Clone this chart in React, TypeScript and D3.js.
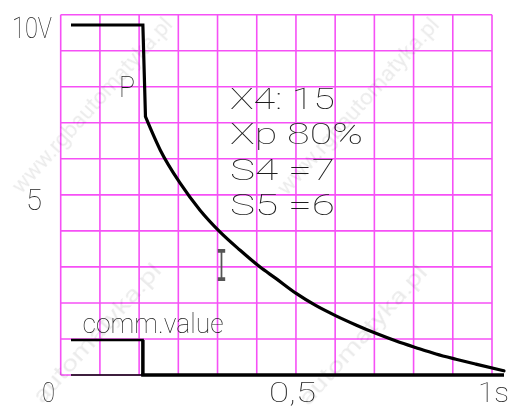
import React from "react";
import * as d3 from "d3";

// ---- data ----
const gridCols = 11;
const gridRows = 10;

// P + I response of the controller output (seconds, volts)
const respTime = [0, 0.166, 0.172, 0.206, 0.252, 0.298, 0.344, 0.39, 0.436, 0.473, 0.52, 0.566, 0.612, 0.658, 0.704, 0.751, 0.797, 0.843, 0.889, 0.935, 1.0];
const respVolt = [10, 10, 7.38, 6.43, 5.48, 4.71, 4.09, 3.57, 3.09, 2.76, 2.33, 1.98, 1.69, 1.43, 1.19, 0.97, 0.78, 0.6, 0.45, 0.31, 0.12];

// command value step
const cmdTime = [0, 0.166, 0.166, 1.0];
const cmdVolt = [1, 1, 0, 0];

const yTickLabels = [
  { v: 10, label: "10V" },
  { v: 5, label: "5" },
  { v: 0, label: "0" },
];
const xTickLabels = [
  { t: 0.5, label: "0,5" },
  { t: 1.0, label: "1s" },
];
const paramLines = ["X4: 15", "Xp 80%", "S4 =7", "S5 =6"];
const watermarkFull = "www.rgbautomatyka.pl";
const watermarkPart = "automatyka.pl";

const W = 511;
const H = 410;

export default function App() {
  const x = d3.scaleLinear().domain([0, 1]).range([71, 504]);
  const y = d3.scaleLinear().domain([0, 10]).range([375, 25]);
  const gx = d3.scaleLinear().domain([0, gridCols]).range([60.7, 492]);
  const gy = d3.scaleLinear().domain([0, gridRows]).range([375, 14.7]);

  const pts = respTime.map((t, i) => [t, respVolt[i]] as [number, number]);
  const stepLine = d3
    .line<[number, number]>()
    .x((d) => x(d[0]))
    .y((d) => y(d[1]));
  const curveLine = d3
    .line<[number, number]>()
    .x((d) => x(d[0]))
    .y((d) => y(d[1]))
    .curve(d3.curveMonotoneX);

  const cmd = cmdTime.map((t, i) => [t, cmdVolt[i]] as [number, number]);

  const font = "Roboto, 'DejaVu Sans', sans-serif";
  const txt = "#1e1e1e";

  const tick = (label: string, xPos: number, base: number, len: number, size = 29) => (
    <text
      key={label}
      x={xPos}
      y={base}
      fontFamily={font}
      fontWeight={100}
      fontSize={size}
      fill={txt}
      textLength={len}
      lengthAdjust="spacingAndGlyphs"
    >
      {label}
    </text>
  );

  const yLabelPos: Record<string, [number, number, number, number]> = {
    "10V": [12, 40, 38, 29],
    "5": [26, 16, 210, 29],
    "0": [42, 13, 402, 28],
  };
  const xLabelPos: Record<string, [number, number]> = {
    "0,5": [269, 47],
    "1s": [478, 31],
  };
  const paramBase = [109, 144, 180, 215];
  const paramLen = [105, 133, 105, 105];

  const wms: [string, number, number, number][] = [
    [watermarkFull, 93, 106, 228],
    [watermarkFull, 359, 107, 230],
    [watermarkPart, 98, 334, 180],
    [watermarkPart, 364, 336, 180],
  ];

  return (
    <svg width={W} height={H} style={{ position: "absolute", left: 0, top: 0, background: "#fff" }}>
      <rect width={W} height={H} fill="#fff" />
      {/* grid */}
      <g stroke="#f650f6" strokeWidth={1.6}>
        {d3.range(gridCols + 1).map((i) => (
          <line key={"v" + i} x1={gx(i)} x2={gx(i)} y1={gy(0)} y2={gy(gridRows)} />
        ))}
        {d3.range(gridRows + 1).map((j) => (
          <line key={"h" + j} x1={gx(0)} x2={gx(gridCols)} y1={gy(j)} y2={gy(j)} />
        ))}
      </g>

      {/* watermark */}
      <g fontFamily={font} fontSize={22} fill="#000" opacity={0.08}>
        {wms.map(([s, cx, cy, len], i) => (
          <text
            key={i}
            x={cx}
            y={cy}
            textAnchor="middle"
            dominantBaseline="middle"
            textLength={len}
            lengthAdjust="spacingAndGlyphs"
            transform={`rotate(-48 ${cx} ${cy})`}
          >
            {s}
          </text>
        ))}
      </g>

      {/* command value */}
      <line x1={x(cmd[0][0])} x2={x(cmd[1][0]) + 1} y1={y(cmd[0][1])} y2={y(cmd[1][1])} stroke="#000" strokeWidth={2.5} />
      <line x1={x(cmd[1][0])} x2={x(cmd[2][0])} y1={y(cmd[1][1])} y2={y(cmd[2][1])} stroke="#000" strokeWidth={3.5} />
      <line x1={x(cmd[2][0]) - 1.7} x2={x(cmd[3][0])} y1={y(cmd[2][1])} y2={y(cmd[3][1])} stroke="#000" strokeWidth={3.5} />
      <line x1={x(0)} x2={x(cmd[2][0])} y1={y(0)} y2={y(0)} stroke="#000" strokeWidth={1.5} />

      {/* response */}
      <path d={stepLine(pts.slice(0, 3)) || ""} fill="none" stroke="#000" strokeWidth={3.2} strokeLinejoin="miter" />
      <path d={curveLine(pts.slice(2)) || ""} fill="none" stroke="#000" strokeWidth={3.2} strokeLinecap="round" />

      {/* axis labels */}
      {yTickLabels.map((d) => {
        const [lx, len, base, size] = yLabelPos[d.label];
        return tick(d.label, lx, base, len, size);
      })}
      {xTickLabels.map((d) => {
        const [lx, len] = xLabelPos[d.label];
        return tick(d.label, lx, 402, len, 28);
      })}

      {/* annotations */}
      {tick("P", 119, 97, 16)}
      {paramLines.map((s, i) => tick(s, 230, paramBase[i], paramLen[i]))}
      <text
        x={216}
        y={281}
        fontFamily="'Liberation Mono', 'DejaVu Sans Mono', monospace"
        fontSize={48}
        fill="#555"
        textLength={11}
        lengthAdjust="spacingAndGlyphs"
      >
        I
      </text>
      {tick("comm.value", 82.5, 332.5, 141, 28)}
    </svg>
  );
}
